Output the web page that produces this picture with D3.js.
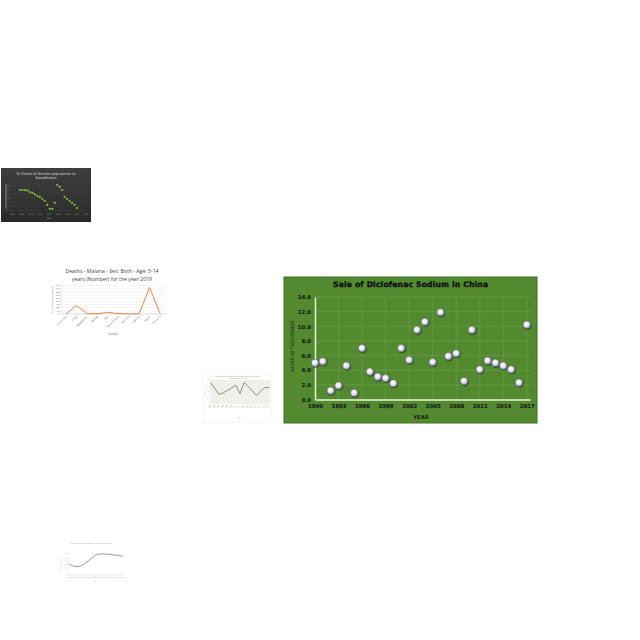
<!DOCTYPE html>
<html><head><meta charset="utf-8">
<script src="https://cdn.jsdelivr.net/npm/d3@7/dist/d3.min.js"></script>
<style>html,body{margin:0;padding:0;background:#fff;}svg{display:block;}</style>
</head><body>
<script>
// ---------- Main chart data ----------
const years = d3.range(1990, 2018);
const sales = [5.0,5.2,1.2,1.9,4.6,0.9,7.0,3.8,3.1,2.9,2.2,7.0,5.4,9.5,10.6,5.1,11.9,5.9,6.3,2.5,9.5,4.1,5.3,5.0,4.6,4.1,2.3,10.2];
const xTickYears = [1990,1993,1996,1999,2002,2005,2008,2011,2014,2017];
const yTicks = [0,2,4,6,8,10,12,14];
const mainTitle = "Sale of Diclofenac Sodium in China";
const mainYTitle = "SALES IN THOUSANDS";
const mainXTitle = "YEAR";

// ---------- Thumbnail 1: Kazakhstan ----------
const kazYears = d3.range(1996, 2020);
const kazShare = [52.00,52.00,52.00,51.99,51.95,51.93,51.89,51.85,51.83,51.78,51.73,51.63,51.53,51.53,51.68,52.13,52.08,52.00,51.83,51.78,51.73,51.68,51.63,51.55];
const kazTitle = ["% Share of female population in","Kazakhstan"];

// ---------- Thumbnail 2: Malaria ----------
const malCountries = ["Cameroon","Chad","Madagascar","Malawi","Mali","Mozambique","Namibia","Rwanda","Sudan","Tanzania"];
const malDeaths = [2,131,8,3,25,6,2,2,420,10];
const malTitle = ["Deaths - Malaria - Sex: Both - Age: 5-14","years (Number) for the year 2019"];
const malYTicks = [0,50,100,150,200,250,300,350,400,450];

// ---------- Thumbnail 3: small line ----------
const t3Years = d3.range(2005, 2020);
const t3Values = [84,60,38,45,55,65,75,42,86,69,52,34,52,66,66];

// ---------- Thumbnail 4: smooth line ----------
const t4Years = d3.range(2006, 2020);
const t4Values = [50,41,38,43,55,68,84,95,96,95,94,91,89,86];

const svg = d3.select("body").append("svg").attr("width",640).attr("height",640);
const defs = svg.append("defs");
const rg = defs.append("radialGradient").attr("id","mk").attr("cx","42%").attr("cy","40%").attr("r","62%");
rg.append("stop").attr("offset","0%").attr("stop-color","#ffffff");
rg.append("stop").attr("offset","50%").attr("stop-color","#e6e6f6");
rg.append("stop").attr("offset","100%").attr("stop-color","#8c8ca8");
const f = defs.append("filter").attr("id","sh").attr("x","-50%").attr("y","-50%").attr("width","200%").attr("height","200%");
f.append("feDropShadow").attr("dx",0.6).attr("dy",0.8).attr("stdDeviation",0.7).attr("flood-color","#000").attr("flood-opacity",0.6);

// ================= MAIN CHART =================
{
  const g = svg.append("g");
  g.append("rect").attr("x",284).attr("y",277).attr("width",253).attr("height",146)
    .attr("fill","#538a2f").attr("stroke","#3f6e24").attr("stroke-width",1);
  const x = d3.scaleLinear().domain([1990, 2017.4]).range([315, 530]);
  const y = d3.scaleLinear().domain([0, 14]).range([399.5, 297]);
  // grid
  g.append("g").selectAll("line").data(yTicks.slice(1)).join("line")
    .attr("x1",315).attr("x2",530).attr("y1",d=>y(d)).attr("y2",d=>y(d))
    .attr("stroke","#6ea24c").attr("stroke-width",0.6);
  g.append("g").selectAll("line").data(xTickYears.slice(1)).join("line")
    .attr("x1",d=>x(d)).attr("x2",d=>x(d)).attr("y1",y(14)).attr("y2",y(0))
    .attr("stroke","#6ea24c").attr("stroke-width",0.6);
  // axes
  const ya = g.append("g").attr("transform","translate(315,0)")
    .call(d3.axisLeft(y).tickValues(yTicks).tickSize(0).tickPadding(4).tickFormat(d3.format(".1f")));
  const xa = g.append("g").attr("transform",`translate(0,${y(0)})`)
    .call(d3.axisBottom(x).tickValues(xTickYears).tickSize(0).tickPadding(5).tickFormat(d3.format("d")));
  [ya,xa].forEach(a=>{
    a.select(".domain").attr("stroke","#e6f4d4").attr("stroke-width",1.5);
    a.selectAll("text").attr("font-family","DejaVu Sans").attr("font-weight","bold")
      .attr("font-size",5.4).attr("fill","#1a1a1a").attr("stroke","#1a1a1a").attr("stroke-width",0.15);
  });
  // points
  g.append("g").selectAll("circle").data(years).join("circle")
    .attr("cx",d=>x(d)).attr("cy",(d,i)=>y(sales[i])).attr("r",3.7)
    .attr("fill","url(#mk)").attr("stroke","#55556a").attr("stroke-width",0.4)
    .attr("filter","url(#sh)");
  g.append("text").attr("x",410.5).attr("y",287.3).attr("text-anchor","middle")
    .attr("font-family","DejaVu Sans").attr("font-weight","bold").attr("font-size",7.6)
    .attr("textLength",155).attr("lengthAdjust","spacing").attr("fill","#111")
    .attr("stroke","#111").attr("stroke-width",0.35).text(mainTitle);
  g.append("text").attr("transform","translate(293.5,346) rotate(-90)").attr("text-anchor","middle")
    .attr("font-family","DejaVu Sans").attr("font-size",4.6).attr("fill","#1a1a1a").text(mainYTitle);
  g.append("text").attr("x",421).attr("y",419).attr("text-anchor","middle")
    .attr("font-family","DejaVu Sans").attr("font-weight","bold").attr("font-size",5.2).attr("fill","#1a1a1a").text(mainXTitle);
}

// ================= THUMB 1: Kazakhstan =================
{
  const g = svg.append("g");
  const bg = defs.append("linearGradient").attr("id","kbg").attr("x1","0").attr("y1","0").attr("x2","0").attr("y2","1");
  bg.append("stop").attr("offset","0%").attr("stop-color","#3e3e3e");
  bg.append("stop").attr("offset","100%").attr("stop-color","#2a2a2a");
  g.append("rect").attr("x",1).attr("y",168).attr("width",90).attr("height",54).attr("fill","url(#kbg)");
  g.selectAll("text.t").data(kazTitle).join("text").attr("class","t")
    .attr("x",46).attr("y",(d,i)=>174.5+i*4.3).attr("text-anchor","middle")
    .attr("font-family","DejaVu Sans").attr("font-size",3.7).attr("fill","#d8d8d8").text(d=>d);
  const x = d3.scaleLinear().domain([1996, 2019]).range([20, 77]);
  const y = d3.scaleLinear().domain([51.4, 52.2]).range([214, 182]);
  const yt = [51.5,51.6,51.7,51.8,51.9,52.0,52.1];
  g.append("g").selectAll("line").data(yt).join("line")
    .attr("x1",10).attr("x2",87).attr("y1",d=>y(d)).attr("y2",d=>y(d)).attr("stroke","#4a4a4a").attr("stroke-width",0.3);
  g.append("line").attr("x1",6).attr("x2",6).attr("y1",184).attr("y2",209).attr("stroke","#9a9a9a").attr("stroke-width",0.8);
  g.append("g").selectAll("text").data(yt).join("text").attr("x",9.5).attr("y",d=>y(d)+0.6)
    .attr("text-anchor","end").attr("font-family","DejaVu Sans").attr("font-size",1.8).attr("fill","#999").text(d=>d.toFixed(1));
  const xt = [1996,1999,2002,2005,2008,2011,2014,2017,2020];
  const xl = d3.scaleLinear().domain([1996,2020]).range([12,86]);
  g.append("g").selectAll("text").data(xt).join("text").attr("x",d=>xl(d)).attr("y",214.5)
    .attr("text-anchor","middle").attr("font-family","DejaVu Sans").attr("font-size",2).attr("fill","#999").text(d=>d);
  g.append("text").attr("x",49).attr("y",219).attr("text-anchor","middle").attr("font-family","DejaVu Sans")
    .attr("font-size",2.2).attr("fill","#aaa").text("Year");
  g.append("g").selectAll("circle").data(kazYears).join("circle")
    .attr("cx",d=>x(d)).attr("cy",(d,i)=>y(kazShare[i])).attr("r",1.1).attr("fill","#86c43f");
}

// ================= THUMB 2: Malaria =================
{
  const g = svg.append("g");
  g.selectAll("text.t").data(malTitle).join("text").attr("class","t")
    .attr("x",112).attr("y",(d,i)=>272.5+i*8.3).attr("text-anchor","middle")
    .attr("font-family","Open Sans").attr("font-size",5.2).attr("fill","#444").text(d=>d);
  const x = d3.scalePoint().domain(malCountries).range([66, 160]);
  const y = d3.scaleLinear().domain([0, 450]).range([314, 285.5]);
  g.append("g").selectAll("line").data(malYTicks).join("line")
    .attr("x1",61).attr("x2",166).attr("y1",d=>y(d)).attr("y2",d=>y(d))
    .attr("stroke","#dedede").attr("stroke-width",0.3);
  g.append("line").attr("x1",61).attr("x2",61).attr("y1",285.5).attr("y2",314).attr("stroke","#bbb").attr("stroke-width",0.4);
  g.append("line").attr("x1",61).attr("x2",166).attr("y1",314).attr("y2",314).attr("stroke","#bbb").attr("stroke-width",0.4);
  g.append("g").selectAll("text").data(malYTicks).join("text").attr("x",59.5).attr("y",d=>y(d)+0.7)
    .attr("text-anchor","end").attr("font-family","Open Sans").attr("font-size",2.2).attr("fill","#666").text(d=>d);
  g.append("text").attr("transform","translate(53,300) rotate(-90)").attr("text-anchor","middle")
    .attr("font-family","Open Sans").attr("font-size",2.4).attr("fill","#666").text("No. of deaths by Malaria");
  g.append("g").selectAll("text").data(malCountries).join("text")
    .attr("transform",d=>`translate(${x(d)+1},316.5) rotate(-45)`).attr("text-anchor","end")
    .attr("font-family","Open Sans").attr("font-size",2.6).attr("fill","#666").text(d=>d);
  g.append("text").attr("x",113).attr("y",334.5).attr("text-anchor","middle")
    .attr("font-family","Open Sans").attr("font-size",2.6).attr("fill","#666").text("Country");
  g.append("path").datum(malCountries).attr("fill","none").attr("stroke","#e07a35").attr("stroke-width",0.9)
    .attr("d",d3.line().x(d=>x(d)).y((d,i)=>y(malDeaths[i])));
}

// ================= THUMB 3 =================
{
  const g = svg.append("g");
  g.append("rect").attr("x",203).attr("y",373).attr("width",68).attr("height",49).attr("fill","#fff")
    .attr("stroke","#e4e4e4").attr("stroke-width",0.4);
  ["Occurrence of first-time and repeat drug-related","appearances by year"].forEach((t,i)=>{
    g.append("text").attr("x",238).attr("y",376.5+i*2.8).attr("text-anchor","middle")
      .attr("font-family","Open Sans").attr("font-size",2).attr("fill","#999").text(t);
  });
  g.append("rect").attr("x",210).attr("y",380).attr("width",60).attr("height",24).attr("fill","#eef0ea");
  const x = d3.scaleLinear().domain([2005, 2019]).range([211, 269]);
  const y = d3.scaleLinear().domain([0, 100]).range([404, 379]);
  g.append("text").attr("transform","translate(205.5,392) rotate(-90)").attr("text-anchor","middle")
    .attr("font-family","Open Sans").attr("font-size",1.8).attr("fill","#999").text("Appearances");
  [0,25,50,75,100].forEach(v=>{
    g.append("text").attr("x",209).attr("y",y(v)+0.5).attr("text-anchor","end")
      .attr("font-family","Open Sans").attr("font-size",1.6).attr("fill","#aaa").text(v);
  });
  g.append("g").selectAll("text").data(t3Years).join("text")
    .attr("transform",d=>`translate(${x(d)+0.8},405.5) rotate(-45)`).attr("text-anchor","end")
    .attr("font-family","Open Sans").attr("font-size",1.9).attr("fill","#999").text(d=>d);
  g.append("text").attr("x",238).attr("y",418).attr("text-anchor","middle")
    .attr("font-family","Open Sans").attr("font-size",2).attr("fill","#999").text("Year");
  g.append("path").datum(t3Years).attr("fill","none").attr("stroke","#6b7a5e").attr("stroke-width",0.8)
    .attr("d",d3.line().x(d=>x(d)).y((d,i)=>y(t3Values[i])));
}

// ================= THUMB 4 =================
{
  const g = svg.append("g");
  g.append("text").attr("x",91).attr("y",544).attr("text-anchor","middle")
    .attr("font-family","Open Sans").attr("font-size",2.1).attr("fill","#999").text("Mean years of schooling, by region and sex");
  const x = d3.scaleLinear().domain([2006, 2019]).range([69, 122.7]);
  const y = d3.scaleLinear().domain([0, 100]).range([575, 553]);
  g.append("line").attr("x1",68).attr("x2",68).attr("y1",552).attr("y2",575).attr("stroke","#ccc").attr("stroke-width",0.4);
  g.append("line").attr("x1",68).attr("x2",124).attr("y1",575).attr("y2",575).attr("stroke","#ccc").attr("stroke-width",0.4);
  [0,25,50,75,100].forEach(v=>{
    g.append("text").attr("x",67).attr("y",y(v)+0.5).attr("text-anchor","end")
      .attr("font-family","Open Sans").attr("font-size",1.6).attr("fill","#aaa").text(v);
  });
  g.append("text").attr("transform","translate(62,564) rotate(-90)").attr("text-anchor","middle")
    .attr("font-family","Open Sans").attr("font-size",1.7).attr("fill","#aaa").text("Years of schooling");
  g.append("g").selectAll("text").data(t4Years).join("text").attr("x",d=>x(d)).attr("y",578)
    .attr("text-anchor","middle").attr("font-family","Open Sans").attr("font-size",1.6).attr("fill","#aaa").text(d=>d);
  g.append("text").attr("x",95).attr("y",582).attr("text-anchor","middle")
    .attr("font-family","Open Sans").attr("font-size",1.9).attr("fill","#aaa").text("Year");
  g.append("path").datum(t4Years).attr("fill","none").attr("stroke","#6e7cb4").attr("stroke-width",0.8)
    .attr("d",d3.line().curve(d3.curveMonotoneX).x(d=>x(d)).y((d,i)=>y(t4Values[i])));
}
</script>
</body></html>
